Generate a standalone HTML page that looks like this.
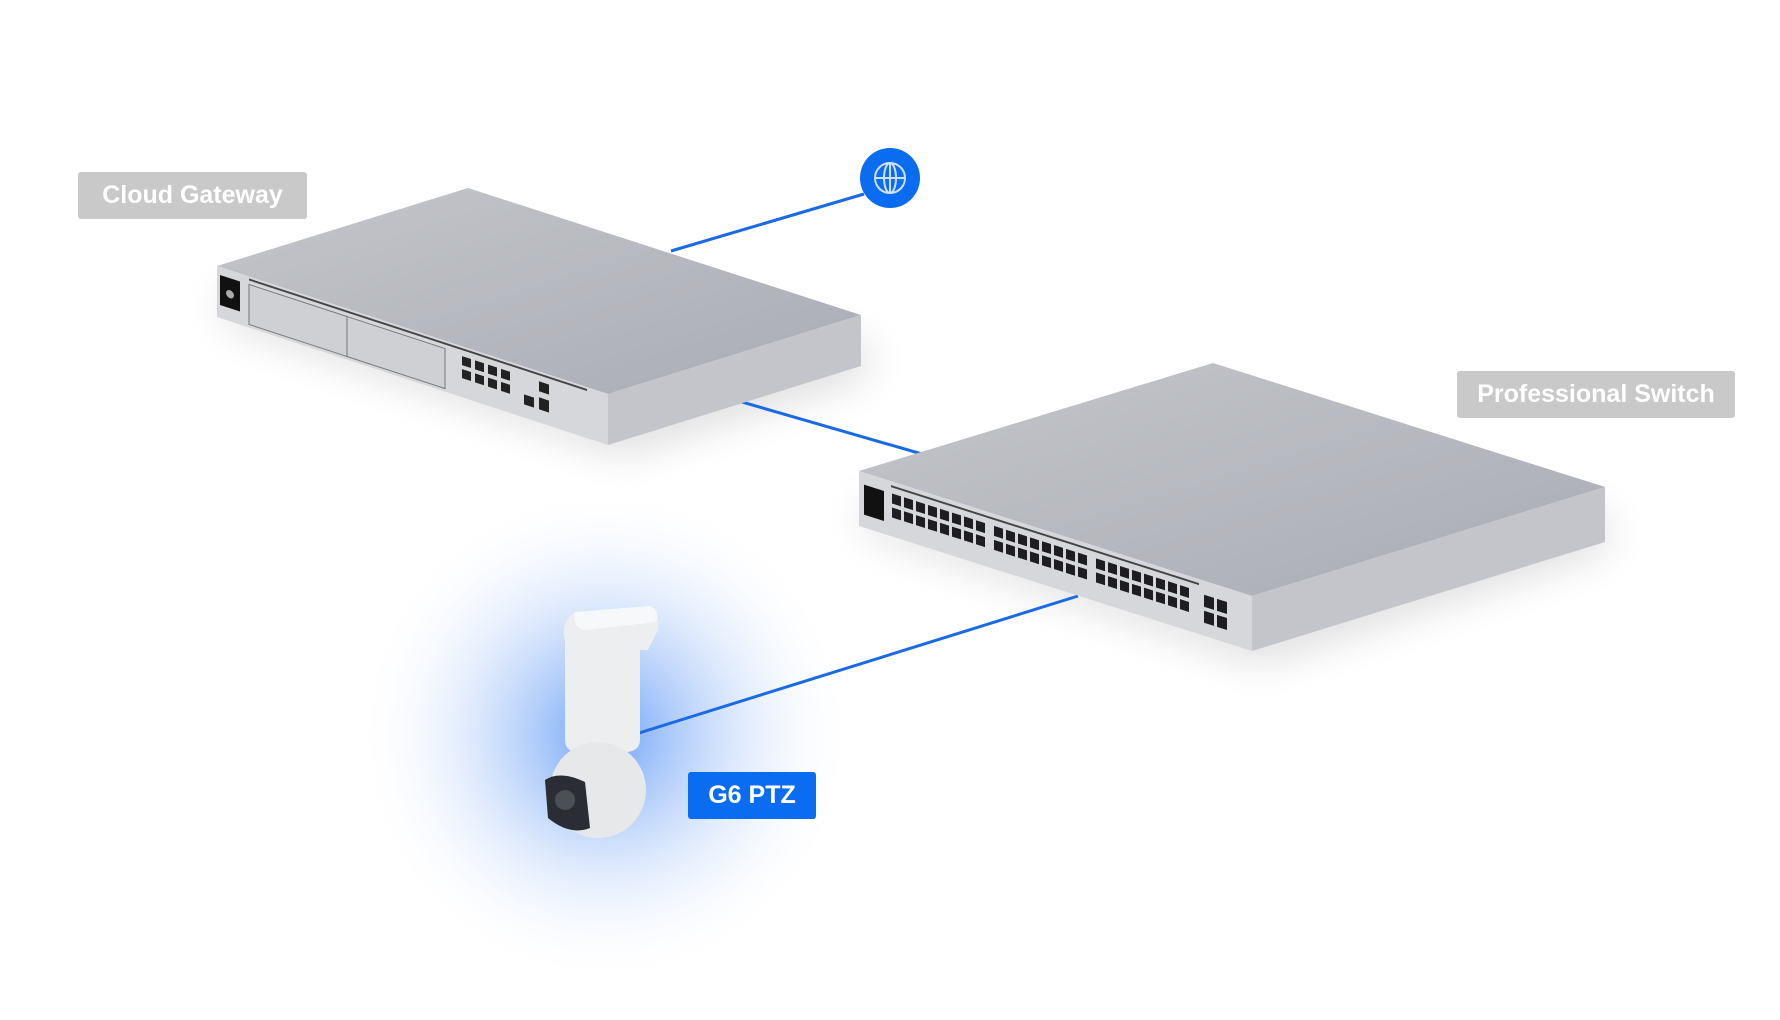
<!DOCTYPE html>
<html><head><meta charset="utf-8"><style>
html,body{margin:0;padding:0;background:#fff;width:1780px;height:1020px;overflow:hidden}
.lbl{position:absolute;font-family:"Liberation Sans",sans-serif;font-weight:bold;color:#fff;display:flex;align-items:center;justify-content:center;border-radius:3px;font-size:25px}
</style></head><body>
<svg width="1780" height="1020" style="position:absolute;left:0;top:0">
<defs>
<radialGradient id="glow" cx="0.5" cy="0.5" r="0.5">
<stop offset="0" stop-color="#3b82f6" stop-opacity="0.75"/>
<stop offset="0.45" stop-color="#7aa9f5" stop-opacity="0.35"/>
<stop offset="1" stop-color="#ffffff" stop-opacity="0"/>
</radialGradient>
<filter id="bl" x="-50%" y="-50%" width="200%" height="200%"><feGaussianBlur stdDeviation="22"/></filter>
<linearGradient id="topg" x1="0" y1="0" x2="1" y2="1"><stop offset="0" stop-color="#c4c6cb"/><stop offset="1" stop-color="#a9acb3"/></linearGradient>
</defs>
<!-- glow -->
<circle cx="605" cy="735" r="250" fill="url(#glow)"/>
<!-- shadows -->
<polygon points="230,320 620,450 870,370 860,340 610,420 220,290" fill="#000" opacity="0.18" filter="url(#bl)"/>
<polygon points="870,530 1260,660 1610,545 1600,510 1250,625 860,500" fill="#000" opacity="0.16" filter="url(#bl)"/>
<!-- lines -->
<g stroke="#1a6ae6" stroke-width="3">
<line x1="864" y1="194" x2="671" y2="251"/>
<line x1="742" y1="402" x2="922" y2="454"/>
<line x1="1078" y1="596" x2="639" y2="733"/>
</g>
<!-- gateway -->
<polygon points="468,188 861,315 608,394 217,266" fill="url(#topg)"/>
<polygon points="217,266 608,394 608,445 217,317" fill="#d6d7db"/>
<polygon points="608,394 861,315 861,366 608,445" fill="#c3c5ca"/>
<g transform="matrix(1 0.327 0 1 217 266)">
<rect x="3" y="8" width="20" height="30" fill="#111"/>
<circle cx="13" cy="24" r="4" fill="#aaa"/>
<rect x="32" y="8" width="98" height="40" fill="#cfd0d4" stroke="#777" stroke-width="1"/>
<rect x="130" y="8" width="98" height="40" fill="#cfd0d4" stroke="#777" stroke-width="1"/>
<line x1="32" y1="3" x2="370" y2="3" stroke="#444" stroke-width="2"/>
<g fill="#222">
<rect x="245" y="10" width="9" height="9"/><rect x="258" y="10" width="9" height="9"/><rect x="271" y="10" width="9" height="9"/><rect x="284" y="10" width="9" height="9"/>
<rect x="245" y="23" width="9" height="9"/><rect x="258" y="23" width="9" height="9"/><rect x="271" y="23" width="9" height="9"/><rect x="284" y="23" width="9" height="9"/>
<rect x="307" y="28" width="10" height="10"/><rect x="322" y="10" width="10" height="10"/><rect x="322" y="26" width="10" height="12"/>
</g>
</g>
<!-- switch -->
<polygon points="1213,363 1605,487 1252,596 859,471" fill="url(#topg)"/>
<polygon points="859,471 1252,596 1252,651 859,526" fill="#d6d7db"/>
<polygon points="1252,596 1605,487 1605,542 1252,651" fill="#c3c5ca"/>
<g transform="matrix(1 0.318 0 1 859 471)">
<rect x="5" y="12" width="20" height="30" fill="#111"/>
<line x1="32" y1="5" x2="340" y2="5" stroke="#444" stroke-width="2"/>
<g fill="#222">
<rect x="32" y="10" width="300" height="12" fill="none"/>
</g>
<g fill="#1e1e22">
<!-- ports generated -->
<rect x="33" y="12" width="9" height="10"/><rect x="45" y="12" width="9" height="10"/><rect x="57" y="12" width="9" height="10"/><rect x="69" y="12" width="9" height="10"/><rect x="81" y="12" width="9" height="10"/><rect x="93" y="12" width="9" height="10"/><rect x="105" y="12" width="9" height="10"/><rect x="117" y="12" width="9" height="10"/>
<rect x="135" y="12" width="9" height="10"/><rect x="147" y="12" width="9" height="10"/><rect x="159" y="12" width="9" height="10"/><rect x="171" y="12" width="9" height="10"/><rect x="183" y="12" width="9" height="10"/><rect x="195" y="12" width="9" height="10"/><rect x="207" y="12" width="9" height="10"/><rect x="219" y="12" width="9" height="10"/>
<rect x="237" y="12" width="9" height="10"/><rect x="249" y="12" width="9" height="10"/><rect x="261" y="12" width="9" height="10"/><rect x="273" y="12" width="9" height="10"/><rect x="285" y="12" width="9" height="10"/><rect x="297" y="12" width="9" height="10"/><rect x="309" y="12" width="9" height="10"/><rect x="321" y="12" width="9" height="10"/>
<rect x="33" y="26" width="9" height="10"/><rect x="45" y="26" width="9" height="10"/><rect x="57" y="26" width="9" height="10"/><rect x="69" y="26" width="9" height="10"/><rect x="81" y="26" width="9" height="10"/><rect x="93" y="26" width="9" height="10"/><rect x="105" y="26" width="9" height="10"/><rect x="117" y="26" width="9" height="10"/>
<rect x="135" y="26" width="9" height="10"/><rect x="147" y="26" width="9" height="10"/><rect x="159" y="26" width="9" height="10"/><rect x="171" y="26" width="9" height="10"/><rect x="183" y="26" width="9" height="10"/><rect x="195" y="26" width="9" height="10"/><rect x="207" y="26" width="9" height="10"/><rect x="219" y="26" width="9" height="10"/>
<rect x="237" y="26" width="9" height="10"/><rect x="249" y="26" width="9" height="10"/><rect x="261" y="26" width="9" height="10"/><rect x="273" y="26" width="9" height="10"/><rect x="285" y="26" width="9" height="10"/><rect x="297" y="26" width="9" height="10"/><rect x="309" y="26" width="9" height="10"/><rect x="321" y="26" width="9" height="10"/>
<rect x="345" y="14" width="10" height="12"/><rect x="358" y="14" width="10" height="12"/><rect x="345" y="30" width="10" height="12"/><rect x="358" y="30" width="10" height="12"/>
</g>
</g>
<!-- globe -->
<circle cx="890" cy="178" r="30" fill="#0a6cf0"/>
<g fill="none" stroke="#cfe0ff" stroke-width="2">
<circle cx="890" cy="178" r="15"/>
<ellipse cx="890" cy="178" rx="6" ry="15"/>
<line x1="875" y1="178" x2="905" y2="178"/>
<line x1="890" y1="163" x2="890" y2="193"/>
</g>
<!-- camera -->
<g>
<path d="M575,612 L650,606 Q660,610 658,630 L648,650 L640,650 L640,740 Q640,750 628,752 L575,752 Q565,750 565,740 L565,640 Q560,622 575,612 Z" fill="#eceef0"/>
<path d="M575,612 L650,606 Q660,610 656,622 L585,630 Q572,628 575,612 Z" fill="#f7f8f9"/>
<circle cx="598" cy="790" r="48" fill="#e6e8ea"/>
<path d="M545,780 Q560,770 585,782 L590,828 Q570,836 548,818 Z" fill="#2a2d33"/>
<circle cx="565" cy="800" r="10" fill="#4a4e55"/>
</g>
</svg>
<div class="lbl" style="left:78px;top:172px;width:229px;height:47px;background:#c9c9c9">Cloud Gateway</div>
<div class="lbl" style="left:1457px;top:371px;width:278px;height:47px;background:#c9c9c9">Professional Switch</div>
<div class="lbl" style="left:688px;top:772px;width:128px;height:47px;background:#0a6cf0">G6 PTZ</div>
</body></html>
